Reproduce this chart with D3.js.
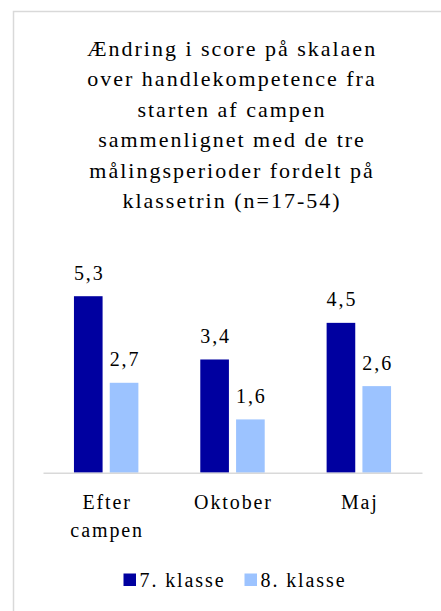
<!DOCTYPE html>
<html>
<head>
<meta charset="utf-8">
<script src="https://cdn.jsdelivr.net/npm/d3@7"></script>
<style>
  body { margin: 0; background: #fff; }
  svg text { font-family: "Liberation Serif", "Times New Roman", serif; fill: #000; letter-spacing: 1.9px; }
</style>
</head>
<body>
<svg id="chart"></svg>
<script>
var width = 441;
var height = 611;

// data
var categories = [["Efter", "campen"], ["Oktober"], ["Maj"]];
var series = ["7. klasse", "8. klasse"];
var values7 = [5.3, 3.4, 4.5];
var values8 = [2.7, 1.6, 2.6];
var titleLines = [
  "Ændring i score på skalaen",
  "over handlekompetence fra",
  "starten af campen",
  "sammenlignet med de tre",
  "målingsperioder fordelt på",
  "klassetrin (n=17-54)"
];

var colors = ['#0000a0', '#9cc3ff'];

var left = 43, right = 422, baseY = 472.7, topY = 272.9;

var svg = d3.select('#chart')
  .attr('width', width)
  .attr('height', height);

svg.append('rect')
  .attr('x', 13.5).attr('y', 11.5)
  .attr('width', 600).attr('height', 800)
  .attr('fill', 'none')
  .attr('stroke', '#d9d9d9')
  .attr('stroke-width', 1.5);

// title
var title = svg.append('text')
  .attr('transform', 'translate(232, 56)')
  .attr('text-anchor', 'middle')
  .style('font-size', '22px')
  .style('letter-spacing', '2px');
title.selectAll('tspan')
  .data(titleLines)
  .enter().append('tspan')
    .attr('x', 0)
    .attr('dy', (d, i) => i === 0 ? 0 : 30.4)
    .text(d => d);

var keys = categories.map(d => d.join(' '));

var x0 = d3.scaleBand()
  .domain(keys)
  .range([left, right])
  .paddingInner(0.49)
  .paddingOuter(0.245);

var x1 = d3.scaleBand()
  .domain(series)
  .range([0, x0.bandwidth()])
  .paddingInner(0.2);

var y = d3.scaleLinear()
  .domain([0, 6])
  .range([baseY, topY]);

var rows = keys.map(function(k, i){
  return [
    {key: k, s: series[0], v: values7[i]},
    {key: k, s: series[1], v: values8[i]}
  ];
});

var groups = svg.selectAll('g.group')
  .data(rows)
  .enter().append('g')
    .classed('group', true)
    .attr('transform', d => `translate(${x0(d[0].key)}, 0)`);

groups.selectAll('rect')
  .data(d => d)
  .enter().append('rect')
    .attr('x', d => x1(d.s))
    .attr('y', d => y(d.v))
    .attr('width', x1.bandwidth())
    .attr('height', d => baseY - y(d.v))
    .attr('fill', (d, i) => colors[i]);

groups.selectAll('text.val')
  .data(d => d)
  .enter().append('text')
    .classed('val', true)
    .attr('x', d => x1(d.s) + x1.bandwidth() / 2 + 1)
    .attr('y', d => y(d.v) - 16.6)
    .attr('text-anchor', 'middle')
    .style('font-size', '20px')
    .text(d => d3.format('.1f')(d.v).replace('.', ','));

// x axis
var xAxis = svg.append('g')
  .attr('transform', `translate(0, ${baseY})`)
  .call(d3.axisBottom(x0).tickSize(0).tickSizeOuter(0).tickPadding(0));

xAxis.select('.domain')
  .attr('stroke', '#d9d9d9')
  .attr('stroke-width', 1.5);

xAxis.selectAll('.tick text')
  .attr('y', 36.6).attr('dy', null)
  .attr('fill', '#000')
  .style('font-family', '"Liberation Serif", "Times New Roman", serif')
  .style('font-size', '20px')
  .each(function(d, i){
    var t = d3.select(this).text('');
    categories[i].forEach(function(line, j){
      t.append('tspan').attr('x', 1).attr('dy', j === 0 ? 0 : 27.4).text(line);
    });
  });

// legend
var legend = svg.selectAll('g.legend')
  .data(series)
  .enter().append('g')
    .classed('legend', true)
    .attr('transform', (d, i) => `translate(${123.5 + i * 121}, 573.5)`);

legend.append('rect')
  .attr('width', 12.5).attr('height', 12.5)
  .attr('fill', (d, i) => colors[i]);

legend.append('text')
  .attr('x', 16).attr('y', 13)
  .style('font-size', '20px')
  .text(d => d);
</script>
</body>
</html>
